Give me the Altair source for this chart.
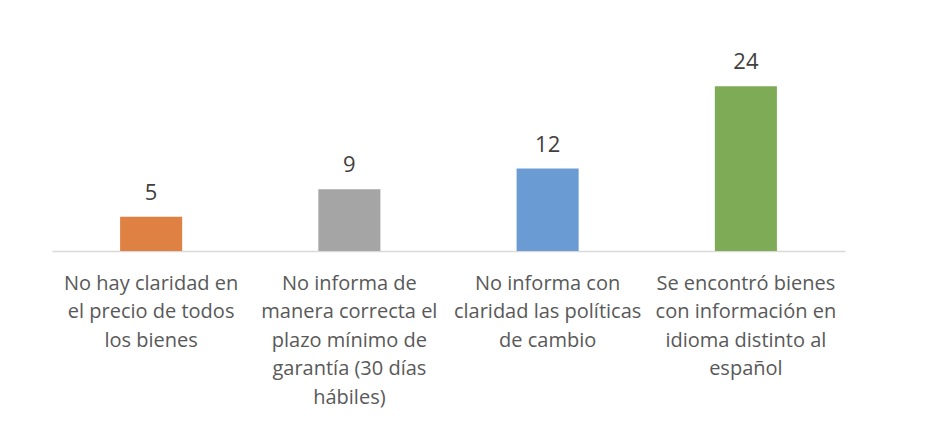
import altair as alt
import pandas as pd

categories = [
    "No hay claridad en|el precio de todos|los bienes",
    "No informa de|manera correcta el|plazo mínimo de|garantía (30 días|hábiles)",
    "No informa con|claridad las políticas|de cambio",
    "Se encontró bienes|con información en|idioma distinto al|español",
]
values = [5, 9, 12, 24]
colors = ["#E08144", "#A5A5A5", "#6A9BD3", "#7DAB56"]

df = pd.DataFrame({"cat": categories, "val": values, "color": colors})

x = alt.X("cat:N", sort=categories, title=None,
          scale=alt.Scale(paddingInner=0.687, paddingOuter=0.3435),
          axis=alt.Axis(labelExpr="split(datum.label, '|')", labelAngle=0,
                        labelFontSize=20, labelColor="#595959", labelFont="Open Sans",
                        labelLineHeight=28.5, labelPadding=22, ticks=False,
                        domainColor="#D9D9D9", domainWidth=1.5, labelLimit=300))
y = alt.Y("val:Q", scale=alt.Scale(domain=[0, 30]), axis=None)

bars = alt.Chart(df).mark_bar().encode(
    x=x, y=y, color=alt.Color("color:N", scale=None))
text = alt.Chart(df).mark_text(baseline="alphabetic", dy=-17, fontSize=22,
                               color="#404040", font="Open Sans").encode(
    x=alt.X("cat:N", sort=categories), y=y, text="val:Q")

chart = (bars + text).properties(
    width=793, height=206,
    padding={"left": 52, "top": 45, "right": 10, "bottom": 5},
).configure(background="white").configure_view(strokeWidth=0, stroke="transparent")

chart.save("out.html", embed_options={"renderer": "svg", "actions": False})
